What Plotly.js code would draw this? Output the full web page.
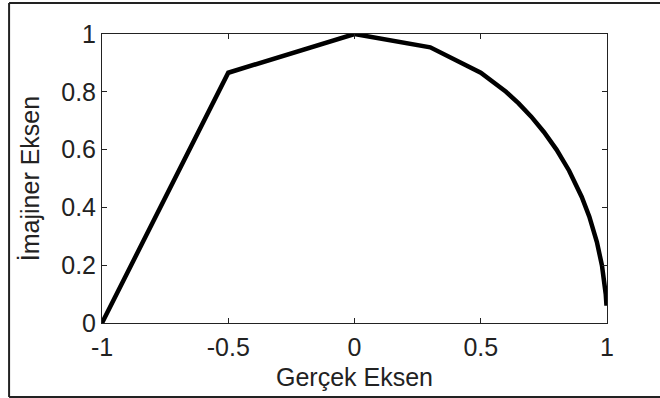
<!DOCTYPE html>
<html>
<head>
<meta charset="utf-8">
<script src="https://cdn.plot.ly/plotly-3.0.1.min.js"></script>
<style>html,body{margin:0;padding:0;background:#fff;}#chart{width:660px;height:398px;}</style>
</head>
<body>
<div id="chart"></div>
<script>
// Data
const realPart = [-1, -0.5, 0, 0.3, 0.5, 0.55, 0.6, 0.65, 0.7, 0.75, 0.8, 0.85, 0.9, 0.93, 0.96, 0.98, 0.99, 0.995, 0.998];
const imagPart = [0, 0.866, 1, 0.954, 0.866, 0.835, 0.8, 0.76, 0.714, 0.661, 0.6, 0.527, 0.436, 0.368, 0.28, 0.199, 0.141, 0.1, 0.06];

const xTickVals = [-1, -0.5, 0, 0.5, 1];
const xTickText = ['-1', '-0.5', '0', '0.5', '1'];
const yTickVals = [0, 0.2, 0.4, 0.6, 0.8, 1];
const yTickText = ['0', '0.2', '0.4', '0.6', '0.8', '1'];

const xTitle = 'Gerçek Eksen';
const yTitle = 'İmajiner Eksen';

const fontFam = 'Liberation Sans, Arial, sans-serif';
const ink = '#222';

const trace = {
  x: realPart,
  y: imagPart,
  type: 'scatter',
  mode: 'lines',
  line: {color: '#000', width: 4.5, shape: 'linear'},
  hoverinfo: 'none'
};

const axisCommon = {
  showgrid: false,
  zeroline: false,
  showline: true,
  linecolor: ink,
  linewidth: 1,
  mirror: 'ticks',
  ticks: 'inside',
  ticklen: 5,
  tickwidth: 1,
  tickcolor: ink,
  tickmode: 'array',
  tickfont: {family: fontFam, size: 25, color: ink}
};

const layout = {
  width: 660,
  height: 398,
  margin: {l: 102, r: 53, t: 34, b: 75},
  paper_bgcolor: '#fff',
  plot_bgcolor: '#fff',
  showlegend: false,
  xaxis: Object.assign({}, axisCommon, {
    range: [-1, 1],
    tickvals: xTickVals,
    ticktext: xTickText,
    ticklabelstandoff: 2,
    title: {text: xTitle, font: {family: fontFam, size: 25, color: ink}, standoff: 8}
  }),
  yaxis: Object.assign({}, axisCommon, {
    range: [0, 1],
    tickvals: yTickVals,
    ticktext: yTickText,
    title: {text: yTitle, font: {family: fontFam, size: 25, color: ink}, standoff: 14}
  }),
  shapes: [
    {type: 'line', xref: 'paper', yref: 'paper', x0: -0.184, x1: -0.184, y0: -0.256, y1: 1.107, line: {color: ink, width: 2}},
    {type: 'line', xref: 'paper', yref: 'paper', x0: -0.184, x1: 1.2, y0: 1.107, y1: 1.107, line: {color: ink, width: 2}},
    {type: 'line', xref: 'paper', yref: 'paper', x0: -0.184, x1: 1.2, y0: -0.256, y1: -0.256, line: {color: ink, width: 2}}
  ]
};

Plotly.newPlot('chart', [trace], layout, {displayModeBar: false, staticPlot: true});
</script>
</body>
</html>
